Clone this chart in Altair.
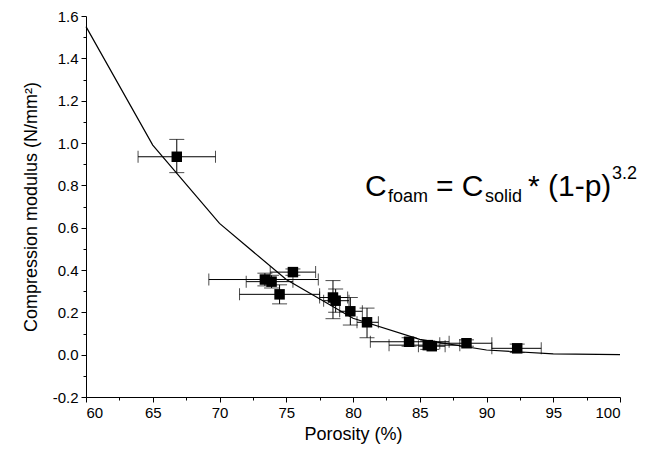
import altair as alt
import pandas as pd

# measured points
porosity = [66.8, 73.4, 73.9, 74.5, 75.5, 78.5, 78.7, 79.8, 81.05, 84.2, 85.6, 85.9, 88.5, 92.3]
modulus = [0.935, 0.355, 0.345, 0.285, 0.39, 0.27, 0.255, 0.205, 0.153, 0.061, 0.045, 0.04, 0.054, 0.03]
por_lo = [63.9, 69.2, 72.0, 71.5, 73.8, 77.5, 77.8, 79.0, 80.3, 81.3, 82.7, 84.9, 86.5, 90.4]
por_hi = [69.7, 77.4, 75.5, 77.5, 77.2, 79.6, 79.7, 80.7, 81.9, 87.2, 88.0, 86.9, 90.4, 94.1]
mod_lo = [0.86, 0.325, 0.315, 0.24, 0.375, 0.17, 0.20, 0.14, 0.08, 0.04, 0.025, 0.025, 0.04, 0.01]
mod_hi = [1.017, 0.385, 0.375, 0.33, 0.405, 0.35, 0.31, 0.27, 0.22, 0.08, 0.065, 0.055, 0.07, 0.05]

# fitted curve
curve_porosity = [60, 65, 70, 75, 80, 85, 90, 95, 100]
curve_modulus = [1.55, 0.99, 0.62, 0.355, 0.172, 0.072, 0.022, 0.004, 0.0]

x_ticks = [60, 65, 70, 75, 80, 85, 90, 95, 100]
y_ticks = [-0.2, 0.0, 0.2, 0.4, 0.6, 0.8, 1.0, 1.2, 1.4, 1.6]
x_minor = [62.5, 67.5, 72.5, 77.5, 82.5, 87.5, 92.5, 97.5]
y_minor = [-0.1, 0.1, 0.3, 0.5, 0.7, 0.9, 1.1, 1.3, 1.5]

pts = pd.DataFrame({"p": porosity, "m": modulus, "plo": por_lo, "phi": por_hi,
                    "mlo": mod_lo, "mhi": mod_hi})
curve = pd.DataFrame({"p": curve_porosity, "m": curve_modulus})

FONT = "Liberation Sans"
xs = alt.Scale(domain=[60, 100], nice=False, zero=False)
ys = alt.Scale(domain=[-0.2, 1.6], nice=False, zero=False)

ylab = "datum.value < 0 ? '-' + format(-datum.value, '.1f') : format(datum.value, '.1f')"

line = alt.Chart(curve).mark_line(color="black", strokeWidth=1.2).encode(
    x=alt.X("p:Q", scale=xs, axis=alt.Axis(values=x_ticks, title="Porosity (%)", orient="bottom",
                                           tickSize=5, labelPadding=3, titlePadding=5, format="d")),
    y=alt.Y("m:Q", scale=ys, axis=alt.Axis(values=y_ticks, title="Compression modulus (N/mm²)",
                                           orient="left", tickSize=5, labelPadding=3,
                                           titlePadding=12, labelExpr=ylab)),
)

minor = alt.Chart(curve).mark_point(opacity=0).encode(
    x=alt.X("p:Q", scale=xs, axis=alt.Axis(values=x_minor, labels=False, title=None, domain=False,
                                           tickSize=3, orient="bottom")),
    y=alt.Y("m:Q", scale=ys, axis=alt.Axis(values=y_minor, labels=False, title=None, domain=False,
                                           tickSize=3, orient="left")),
)

xerr = alt.Chart(pts).mark_errorbar(ticks={"size": 12}, color="black", thickness=1).encode(
    x=alt.X("plo:Q", scale=xs, axis=None), x2="phi:Q", y=alt.Y("m:Q", scale=ys, axis=None)
)
yerr = alt.Chart(pts).mark_errorbar(ticks={"size": 15}, color="black", thickness=1).encode(
    y=alt.Y("mlo:Q", scale=ys, axis=None), y2="mhi:Q", x=alt.X("p:Q", scale=xs, axis=None)
)
squares = alt.Chart(pts).mark_square(size=110, color="black", opacity=1, filled=True).encode(
    x=alt.X("p:Q", scale=xs, axis=None), y=alt.Y("m:Q", scale=ys, axis=None)
)

# formula annotation pieces (no leading spaces: SVG collapses them)
f_big = ["C", "= C", "* (1-p)"]
f_big_x = [279, 350, 442]
f_sub = ["foam", "solid"]
f_sub_x = [302, 399]
f_sup = ["3.2"]
f_sup_x = [526]

def txt(items, xs_px, y_px, size):
    d = pd.DataFrame({"t": items, "xp": xs_px})
    return alt.Chart(d).mark_text(align="left", baseline="alphabetic", font=FONT,
                                  fontSize=size, color="black").encode(
        x=alt.X("xp:Q", scale=None, axis=None), y=alt.value(y_px), text="t:N")

formula = txt(f_big, f_big_x, 180, 30) + txt(f_sub, f_sub_x, 186, 18) + txt(f_sup, f_sup_x, 163, 18)

chart = alt.layer(line, xerr, yerr, squares, formula, minor).resolve_axis(
    x="independent", y="independent"
).properties(
    width=534, height=381,
    autosize=alt.AutoSizeParams(type="none"),
    padding={"left": 78, "top": 8, "right": 18, "bottom": 51},
).configure_view(stroke=None).configure_axis(
    grid=False, domainColor="black", tickColor="black", labelColor="black", titleColor="black",
    labelFont=FONT, titleFont=FONT, labelFontSize=15, titleFontSize=18, titleFontWeight="normal",
    domainWidth=1, tickWidth=1,
)

chart.save("out.html", embed_options={"renderer": "svg", "actions": False})
